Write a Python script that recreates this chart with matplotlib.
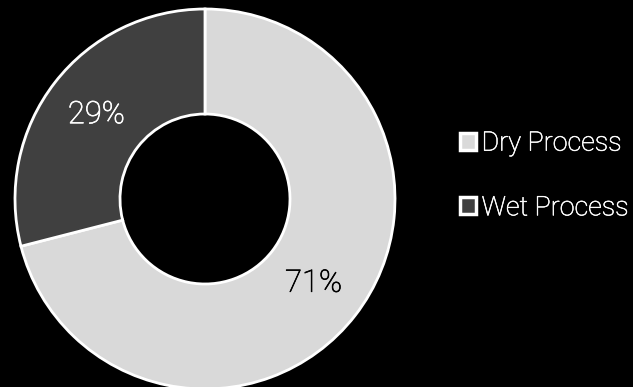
import matplotlib
matplotlib.use("Agg")
import matplotlib.pyplot as plt
import matplotlib.patheffects as pe

categories = ["Dry Process", "Wet Process"]
shares = [71, 29]
colors = ["#d9d9d9", "#404040"]
label_colors = ["#000000", "#ffffff"]

plt.rcParams["font.family"] = ["Roboto", "DejaVu Sans"]

fig = plt.figure(figsize=(6.33, 3.87), dpi=100, facecolor="black")
ax = fig.add_axes([0, 0, 1, 1])
ax.set_facecolor("black")

outer, ring = 190, 105
wedges, texts, autotexts = ax.pie(
    shares, colors=colors, radius=outer, startangle=90, counterclock=False,
    wedgeprops=dict(width=ring, edgecolor="white", linewidth=2),
    autopct="%d%%", pctdistance=(outer - ring / 2) / outer,
    textprops=dict(fontsize=22.3, fontweight="light"),
)
for t, c in zip(autotexts, label_colors):
    t.set_color(c)
    t.set_path_effects([pe.withStroke(linewidth=0.5, foreground=c)])

# one data unit = one pixel, ring centred at (205, 199) from the top-left
ax.set_xlim(-205, 633 - 205)
ax.set_ylim(-(387 - 199), 199)
ax.set_aspect("equal", adjustable="datalim")
ax.axis("off")

leg = ax.legend(
    wedges, categories, loc="center left", bbox_to_anchor=(460 / 633, 1 - 175.5 / 387),
    frameon=False, borderpad=0, borderaxespad=0, prop=dict(size=19.4, weight="light"),
    handlelength=0.6, handleheight=0.6, handletextpad=0.2, labelspacing=1.4,
    labelcolor="white",
)
for h in leg.legend_handles:
    h.set_linewidth(2.5)
    h.set_edgecolor("white")
for t in leg.get_texts():
    t.set_path_effects([pe.withStroke(linewidth=0.4, foreground="white")])

fig.savefig("out.png", dpi=100, facecolor="black")
